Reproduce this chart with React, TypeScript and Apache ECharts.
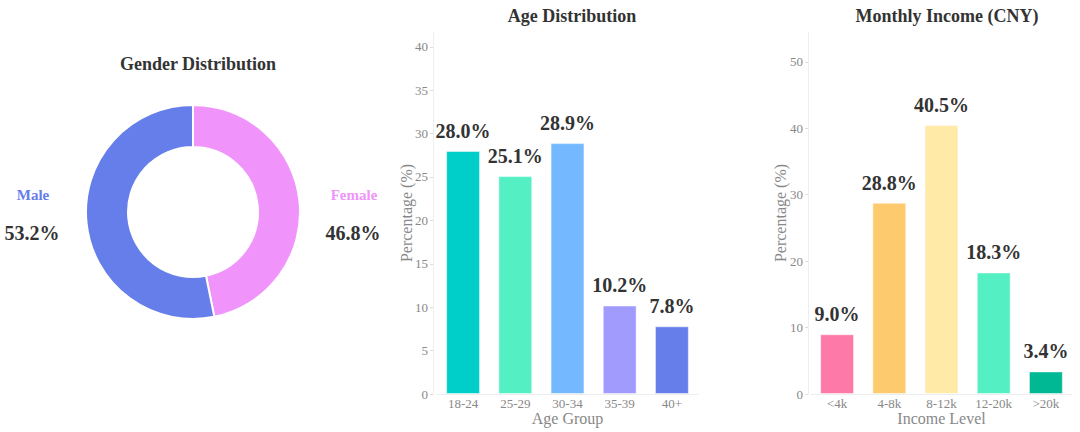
import React, { useEffect, useRef } from "react";
import * as echarts from "echarts";

const genderNames = ["Female", "Male"];
const genderValues = [46.8, 53.2];
const genderColors = ["#f093fb", "#667eea"];

const ageCategories = ["18-24", "25-29", "30-34", "35-39", "40+"];
const ageValues = [28.0, 25.1, 28.9, 10.2, 7.8];
const ageColors = ["#00cec9", "#55efc4", "#74b9ff", "#a29bfe", "#667eea"];

const incomeCategories = ["<4k", "4-8k", "8-12k", "12-20k", ">20k"];
const incomeValues = [9.0, 28.8, 40.5, 18.3, 3.4];
const incomeColors = ["#fd79a8", "#fdcb6e", "#ffeaa7", "#55efc4", "#00b894"];

const FONT = "Liberation Serif";

export default function App() {
  const ref = useRef<HTMLDivElement>(null);
  useEffect(() => {
    document.body.style.margin = "0";
    if (!ref.current) return;
    const chart = echarts.init(ref.current, null, { renderer: "svg" });

    const axisCommon = {
      axisLine: { show: true, lineStyle: { color: "#eeeeee", width: 1 } },
      axisTick: { show: true, length: 3, lineStyle: { color: "#dddddd" } },
      splitLine: { show: false },
      axisLabel: { color: "#888888", fontFamily: FONT, fontSize: 13 },
      nameTextStyle: { color: "#888888", fontFamily: FONT, fontSize: 16 },
      nameMoveOverlap: false,
    };

    const barLabel = {
      show: true,
      position: "top" as const,
      distance: 10,
      fontFamily: FONT,
      fontSize: 20,
      fontWeight: "bold" as const,
      color: "#333333",
      formatter: (p: any) => p.value.toFixed(1) + "%",
    };

    const labelPos = [
      { name: [354, 195], val: [353, 233] },
      { name: [33, 195], val: [32, 233] },
    ];

    const graphic: any[] = [];
    genderNames.forEach((n, i) => {
      graphic.push({
        type: "text",
        x: labelPos[i].name[0],
        y: labelPos[i].name[1],
        style: {
          text: n,
          fill: genderColors[i],
          fontFamily: FONT,
          fontSize: 15,
          fontWeight: "bold",
          textAlign: "center",
          textVerticalAlign: "middle",
        },
      });
      graphic.push({
        type: "text",
        x: labelPos[i].val[0],
        y: labelPos[i].val[1],
        style: {
          text: genderValues[i].toFixed(1) + "%",
          fill: "#333333",
          fontFamily: FONT,
          fontSize: 20,
          fontWeight: "bold",
          textAlign: "center",
          textVerticalAlign: "middle",
        },
      });
    });

    const titleStyle = { fontFamily: FONT, fontSize: 18, fontWeight: "bold", color: "#333333" };

    chart.setOption({
      animation: false,
      backgroundColor: "#ffffff",
      title: [
        { text: "Gender Distribution", left: 193, top: 50, textAlign: "center", textStyle: titleStyle },
        { text: "Age Distribution", left: 567, top: 2, textAlign: "center", textStyle: titleStyle },
        { text: "Monthly Income (CNY)", left: 942, top: 2, textAlign: "center", textStyle: titleStyle },
      ],
      grid: [
        { left: 437, right: 382, top: 32, bottom: 38, outerBoundsMode: "none", containLabel: false },
        { left: 811, right: 8, top: 32, bottom: 38, outerBoundsMode: "none", containLabel: false },
      ],
      xAxis: [
        {
          ...axisCommon,
          type: "category",
          gridIndex: 0,
          data: ageCategories,
          name: "Age Group",
          nameLocation: "middle",
          nameGap: 16,
          axisLabel: { ...axisCommon.axisLabel, margin: 3 },
          axisTick: { show: false },
        },
        {
          ...axisCommon,
          type: "category",
          gridIndex: 1,
          data: incomeCategories,
          name: "Income Level",
          nameLocation: "middle",
          nameGap: 16,
          axisLabel: { ...axisCommon.axisLabel, margin: 3 },
          axisTick: { show: false },
        },
      ],
      yAxis: [
        {
          ...axisCommon,
          type: "value",
          gridIndex: 0,
          min: 0,
          max: 41.7,
          interval: 5,
          offset: 4,
          name: "Percentage (%)",
          nameLocation: "middle",
          nameGap: 19,
          axisLabel: { ...axisCommon.axisLabel, margin: 5, showMaxLabel: false },
        },
        {
          ...axisCommon,
          type: "value",
          gridIndex: 1,
          min: 0,
          max: 54.5,
          interval: 10,
          offset: 3,
          name: "Percentage (%)",
          nameLocation: "middle",
          nameGap: 20,
          axisLabel: { ...axisCommon.axisLabel, margin: 5, showMaxLabel: false },
        },
      ],
      graphic,
      series: [
        {
          type: "pie",
          center: [193, 212],
          radius: [65, 107],
          startAngle: 90,
          clockwise: true,
          label: { show: false },
          labelLine: { show: false },
          itemStyle: { borderColor: "#ffffff", borderWidth: 2 },
          data: genderNames.map((n, i) => ({
            name: n,
            value: genderValues[i],
            itemStyle: { color: genderColors[i] },
          })),
        },
        {
          type: "bar",
          xAxisIndex: 0,
          yAxisIndex: 0,
          barWidth: "65%",
          label: barLabel,
          data: ageValues.map((v, i) => ({
            value: v,
            itemStyle: { color: ageColors[i], borderColor: "rgba(255,255,255,0.5)", borderWidth: 1 },
          })),
        },
        {
          type: "bar",
          xAxisIndex: 1,
          yAxisIndex: 1,
          barWidth: "65%",
          label: barLabel,
          data: incomeValues.map((v, i) => ({
            value: v,
            itemStyle: { color: incomeColors[i], borderColor: "rgba(255,255,255,0.5)", borderWidth: 1 },
          })),
        },
      ],
    });
    return () => chart.dispose();
  }, []);
  return <div ref={ref} style={{ width: 1080, height: 432 }} />;
}
